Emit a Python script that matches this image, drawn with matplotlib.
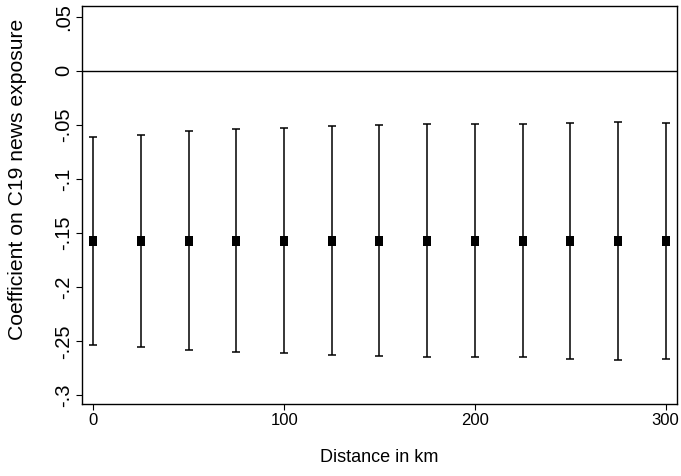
import matplotlib
matplotlib.use("Agg")
import matplotlib.pyplot as plt

distance = [0, 25, 50, 75, 100, 125, 150, 175, 200, 225, 250, 275, 300]
coef = [-0.157] * 13
lower = [-0.253, -0.255, -0.258, -0.260, -0.261, -0.263, -0.264, -0.265, -0.265, -0.265, -0.266, -0.267, -0.266]
upper = [-0.061, -0.059, -0.056, -0.054, -0.053, -0.051, -0.050, -0.049, -0.049, -0.049, -0.048, -0.047, -0.048]

yticks = [0.05, 0, -0.05, -0.1, -0.15, -0.2, -0.25, -0.3]
yticklabels = [".05", "0", "-.05", "-.1", "-.15", "-.2", "-.25", "-.3"]
xticks = [0, 100, 200, 300]
xticklabels = ["0", "100", "200", "300"]

plt.rcParams['font.family'] = ['Liberation Sans', 'DejaVu Sans']

fig = plt.figure(figsize=(6.81, 4.76), dpi=100)
ax = fig.add_axes([82/681, 1-404/476, (677-82)/681, (404-6)/476])

ax.axhline(0, color='black', lw=1.0, zorder=1)
err_lo = [c - l for c, l in zip(coef, lower)]
err_hi = [u - c for c, u in zip(coef, upper)]
tall_square = [(-0.4, -0.5), (0.4, -0.5), (0.4, 0.5), (-0.4, 0.5), (-0.4, -0.5)]
ax.errorbar(distance, coef, yerr=[err_lo, err_hi], fmt='none',
            ecolor='black', elinewidth=1.1, capsize=2.6, capthick=1.1, zorder=2)
ax.plot(distance, coef, linestyle='none', marker=tall_square, markersize=7.6,
        color='black', markeredgewidth=0, zorder=3)

ax.set_xlim(-6, 306)
ax.set_ylim(-0.308, 0.060)
ax.set_yticks(yticks)
ax.set_yticklabels(yticklabels, rotation=90, va='center')
ax.set_xticks(xticks)
ax.set_xticklabels(xticklabels)
ax.tick_params(axis='x', direction='out', length=4.5, width=0.8, labelsize=12, pad=2, colors='black')
ax.tick_params(axis='y', direction='out', length=4.5, width=0.8, labelsize=14.5, pad=2, colors='black')
for s in ax.spines.values():
    s.set_linewidth(1.0)
    s.set_color('black')

ax.set_xlabel("Distance in km", fontsize=13, va='center')
ax.xaxis.set_label_coords((379 - 82) / 595, (404 - 458) / 398)
ax.set_ylabel("Coefficient on C19 news exposure", fontsize=15.2, va='center')
ax.yaxis.set_label_coords((18 - 82) / 595, (404 - 179) / 398)

fig.savefig("out.png", dpi=100)
